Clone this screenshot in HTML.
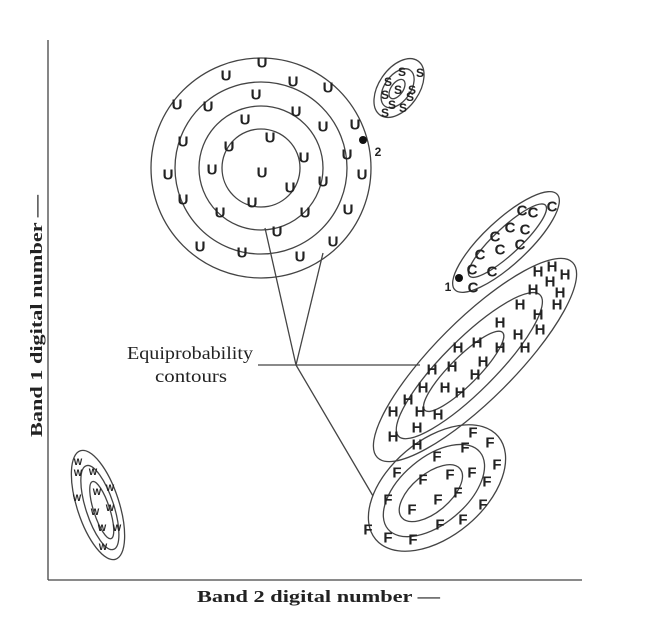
<!DOCTYPE html>
<html><head><meta charset="utf-8"><style>
html,body{margin:0;padding:0;background:#fff;}
svg{display:block;}
.u{font-family:"Liberation Sans",sans-serif;font-weight:bold;font-size:15px;fill:#222;text-anchor:middle;dominant-baseline:central;}
.s{font-size:12px;}
.w{font-size:9px;}
</style></head><body>
<svg width="650" height="635" viewBox="0 0 650 635" xmlns="http://www.w3.org/2000/svg">
<g fill="none" stroke="#444" stroke-width="1.3">
<line x1="48" y1="40" x2="48" y2="580"/>
<line x1="48" y1="580" x2="582" y2="580"/>
<circle cx="261" cy="168" r="110"/>
<circle cx="261" cy="168" r="86"/>
<circle cx="261" cy="168" r="62"/>
<circle cx="261" cy="168" r="39"/>
<g transform="translate(399,88) rotate(35)"><ellipse rx="20" ry="33"/><ellipse cx="-1" cy="1" rx="13" ry="22"/><ellipse cx="-1" cy="2" rx="6" ry="11"/></g>
<g transform="translate(506,242) rotate(-43)"><ellipse rx="70" ry="22"/><ellipse cx="2" rx="52" ry="13"/></g>
<g transform="translate(475,360) rotate(-45)"><ellipse rx="138" ry="40"/><ellipse cx="-8" rx="100" ry="26"/><ellipse cx="-16" rx="55" ry="14"/></g>
<g transform="translate(437,488) rotate(-40)"><ellipse rx="80" ry="48"/><ellipse cx="-4" rx="60" ry="33"/><ellipse cx="-8" rx="38" ry="19"/></g>
<g transform="translate(98,505) rotate(-18)"><ellipse rx="21" ry="57"/><ellipse cx="1" cy="3" rx="14" ry="44"/><ellipse cx="2" cy="6" rx="8" ry="30"/></g>
<line x1="296" y1="365" x2="265" y2="228"/>
<line x1="296" y1="365" x2="323" y2="253"/>
<line x1="258" y1="365" x2="420" y2="365"/>
<line x1="296" y1="365" x2="373" y2="496"/>
</g>
<circle cx="363" cy="140" r="4" fill="#111"/>
<circle cx="459" cy="278" r="4" fill="#111"/>
<text class="u s" x="378" y="152">2</text>
<text class="u s" x="448" y="287">1</text>
<g class="u">
<text x="262" y="63">U</text><text x="226" y="76">U</text><text x="293" y="82">U</text><text x="328" y="88">U</text>
<text x="177" y="105">U</text><text x="208" y="107">U</text><text x="256" y="95">U</text><text x="296" y="112">U</text>
<text x="323" y="127">U</text><text x="355" y="125">U</text><text x="245" y="120">U</text><text x="183" y="142">U</text>
<text x="229" y="147">U</text><text x="270" y="138">U</text><text x="304" y="158">U</text><text x="347" y="155">U</text>
<text x="168" y="175">U</text><text x="212" y="170">U</text><text x="262" y="173">U</text><text x="362" y="175">U</text>
<text x="183" y="200">U</text><text x="290" y="188">U</text><text x="323" y="182">U</text><text x="220" y="213">U</text>
<text x="252" y="203">U</text><text x="305" y="213">U</text><text x="348" y="210">U</text><text x="277" y="232">U</text>
<text x="200" y="247">U</text><text x="242" y="253">U</text><text x="300" y="257">U</text><text x="333" y="242">U</text>
</g>
<g class="u s">
<text x="388" y="82">S</text><text x="402" y="72">S</text><text x="420" y="73">S</text><text x="398" y="90">S</text>
<text x="385" y="95">S</text><text x="412" y="90">S</text><text x="392" y="105">S</text><text x="403" y="108">S</text>
<text x="385" y="113">S</text><text x="410" y="97">S</text>
</g>
<g class="u">
<text x="552" y="207">C</text><text x="533" y="213">C</text><text x="522" y="211">C</text><text x="525" y="230">C</text>
<text x="510" y="228">C</text><text x="520" y="245">C</text><text x="495" y="237">C</text><text x="500" y="250">C</text>
<text x="480" y="255">C</text><text x="472" y="270">C</text><text x="492" y="272">C</text><text x="473" y="288">C</text>
</g>
<g class="u">
<text x="538" y="272">H</text><text x="552" y="267">H</text><text x="565" y="275">H</text><text x="533" y="290">H</text>
<text x="550" y="282">H</text><text x="560" y="293">H</text><text x="557" y="305">H</text><text x="520" y="305">H</text>
<text x="538" y="315">H</text><text x="500" y="323">H</text><text x="540" y="330">H</text><text x="518" y="335">H</text>
<text x="525" y="348">H</text><text x="477" y="343">H</text><text x="458" y="348">H</text><text x="500" y="348">H</text>
<text x="483" y="362">H</text><text x="452" y="367">H</text><text x="475" y="375">H</text><text x="432" y="370">H</text>
<text x="423" y="388">H</text><text x="445" y="388">H</text><text x="460" y="393">H</text><text x="408" y="400">H</text>
<text x="393" y="412">H</text><text x="420" y="412">H</text><text x="438" y="415">H</text><text x="393" y="437">H</text>
<text x="417" y="428">H</text><text x="417" y="445">H</text>
</g>
<g class="u">
<text x="473" y="433">F</text><text x="490" y="443">F</text><text x="465" y="448">F</text><text x="437" y="457">F</text>
<text x="497" y="465">F</text><text x="397" y="473">F</text><text x="423" y="480">F</text><text x="450" y="475">F</text>
<text x="472" y="473">F</text><text x="487" y="482">F</text><text x="458" y="493">F</text><text x="388" y="500">F</text>
<text x="438" y="500">F</text><text x="483" y="505">F</text><text x="412" y="510">F</text><text x="440" y="525">F</text>
<text x="463" y="520">F</text><text x="368" y="530">F</text><text x="388" y="538">F</text><text x="413" y="540">F</text>
</g>
<g class="u w">
<text x="78" y="462">W</text><text x="78" y="473">W</text><text x="93" y="472">W</text><text x="77" y="498">W</text>
<text x="97" y="492">W</text><text x="110" y="488">W</text><text x="95" y="512">W</text><text x="110" y="508">W</text>
<text x="102" y="528">W</text><text x="117" y="528">W</text><text x="103" y="547">W</text>
</g>
<g font-family="Liberation Serif,serif" fill="#222">
<text x="127" y="359" font-size="18" textLength="126" lengthAdjust="spacingAndGlyphs">Equiprobability</text>
<text x="155" y="382" font-size="18" textLength="72" lengthAdjust="spacingAndGlyphs">contours</text>
<text x="197" y="602" font-size="17" font-weight="bold" textLength="243" lengthAdjust="spacingAndGlyphs">Band 2 digital number —</text>
<text transform="translate(42,437) rotate(-90)" font-size="17" font-weight="bold" textLength="242" lengthAdjust="spacingAndGlyphs">Band 1 digital number —</text>
</g>
</svg>
</body></html>
